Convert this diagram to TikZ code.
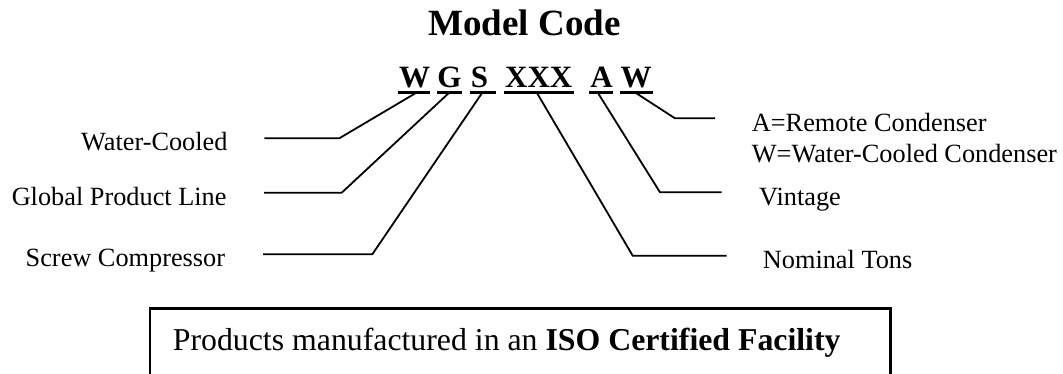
\documentclass[tikz,border=0pt]{standalone}
\usepackage{fontspec}
\setmainfont{Liberation Serif}
\begin{document}
\begin{tikzpicture}[x=1pt,y=-1pt,
  lbl/.style={inner sep=0pt,font=\fontsize{26.3}{30}\selectfont},
  code/.style={inner sep=0pt,anchor=base,font=\fontsize{31}{34}\selectfont\bfseries},
  uline/.style={line width=3pt},
  conn/.style={line width=1.8pt,line join=miter},
  boxline/.style={line width=2.8pt}]
\useasboundingbox (0,0) rectangle (1063,373);
\clip (0,0) rectangle (1063,373);
% title
\node[inner sep=0pt,anchor=base,font=\fontsize{37}{40}\selectfont\bfseries] (title) at (524.5,35) {Model Code};
% code letters
\node[code] (cW) at (414.7,87.7) {W};
\node[code] (cG) at (449.5,87.7) {G};
\node[code] (cS) at (479.5,87.7) {S};
\node[code] (cX) at (538.8,87.7) {XXX};
\node[code] (cA) at (601.5,87.7) {A};
\node[code] (cW2) at (636.2,87.7) {W};
% underlines
\draw[uline] (398.3,92.7) -- (430,92.7);
\draw[uline] (437.3,92.7) -- (461.7,92.7);
\draw[uline] (470,92.7) -- (496,92.7);
\draw[uline] (504,92.7) -- (574,92.7);
\draw[uline] (589.3,92.7) -- (613.3,92.7);
\draw[uline] (620,92.7) -- (652.7,92.7);
% connector start points
\coordinate (sW) at (415,93.5);
\coordinate (sG) at (448.3,93.5);
\coordinate (sS) at (481.7,93.5);
\coordinate (sX) at (537.3,93.5);
\coordinate (sA) at (598.3,93.5);
\coordinate (sW2) at (636.7,93.5);
% bends and ends
\coordinate (bW) at (339.3,138.3);   \coordinate (eW) at (264.3,138.3);
\coordinate (bG) at (341.7,192.7);   \coordinate (eG) at (264,192.7);
\coordinate (bS) at (372.3,254.3);   \coordinate (eS) at (263,254.3);
\coordinate (bX) at (632.7,255.7);   \coordinate (eX) at (726.7,255.7);
\coordinate (bA) at (660,192.3);     \coordinate (eA) at (721.7,192.3);
\coordinate (bW2) at (675,118.3);    \coordinate (eW2) at (715,118.3);
\draw[conn] (sW) -- (bW) -- (eW);
\draw[conn] (sG) -- (bG) -- (eG);
\draw[conn] (sS) -- (bS) -- (eS);
\draw[conn] (sX) -- (bX) -- (eX);
\draw[conn] (sA) -- (bA) -- (eA);
\draw[conn] (sW2) -- (bW2) -- (eW2);
% labels
\node[lbl,anchor=base east] (lW) at (227.7,150.7) {Water-Cooled};
\node[lbl,anchor=base east] (lG) at (226.7,205.3) {Global Product Line};
\node[lbl,anchor=base east] (lS) at (225.3,266.7) {Screw Compressor};
\node[lbl,anchor=base west] (lA1) at (751.7,131) {A=Remote Condenser};
\node[lbl,anchor=base west] (lA2) at (751.7,162.7) {W=Water-Cooled Condenser};
\node[lbl,anchor=base west] (lV) at (759,205) {Vintage};
\node[lbl,anchor=base west] (lN) at (762.7,268.3) {Nominal Tons};
% ISO box
\draw[boxline] (150,308.3) rectangle (890.7,400);
\node[inner sep=0pt,anchor=base west,font=\fontsize{31.8}{35}\selectfont] (iso) at (172.7,350) {Products manufactured in an \textbf{ISO Certified Facility}};
\end{tikzpicture}
\end{document}
